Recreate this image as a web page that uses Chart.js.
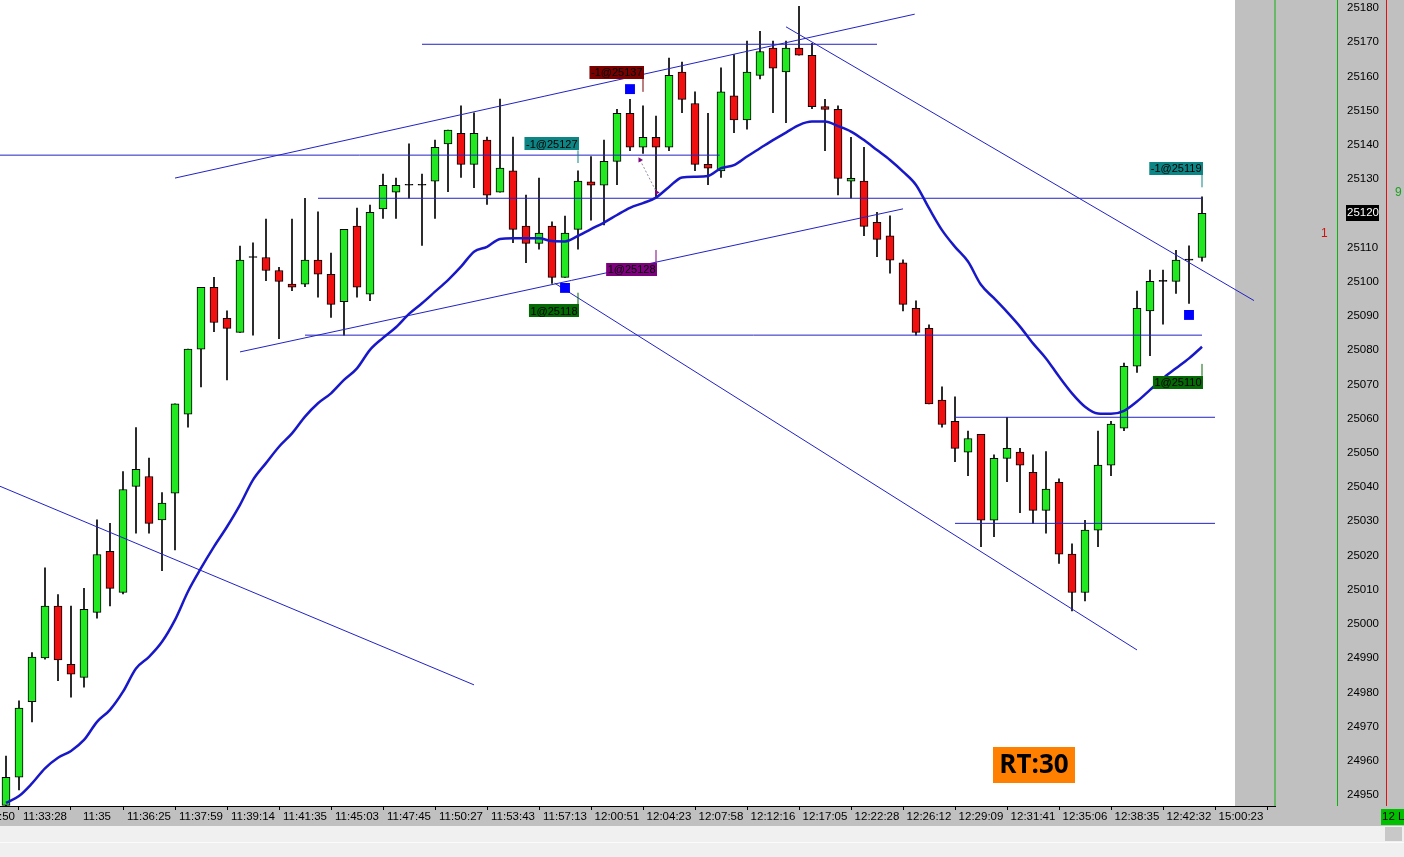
<!DOCTYPE html>
<html>
<head>
<meta charset="utf-8">
<script src="https://cdn.jsdelivr.net/npm/chart.js@4.4.1/dist/chart.umd.min.js"></script>
<style>
html,body{margin:0;padding:0;background:#f0f0f0;}
#wrap{width:1404px;height:857px;position:relative;}
</style>
</head>
<body>
<div id="wrap"><canvas id="candleChart"></canvas></div>
<script>
// bar data (one entry per candle, left to right)
const opens  = [24947.0,24955.2,24977.3,24990.1,25005.2,24988.2,24984.4,25003.4,25021.2,25009.2,
                25040.2,25043.1,25030.4,25038.2,25061.3,25080.3,25098.4,25089.3,25085.2,25107.1,
                25107.1,25103.3,25099.3,25099.3,25106.3,25102.2,25094.2,25116.3,25096.4,25121.3,
                25126.2,25128.2,25128.2,25129.4,25140.3,25143.4,25134.3,25141.4,25126.2,25132.4,
                25116.3,25111.2,25116.3,25101.3,25115.3,25129.2,25128.2,25135.2,25149.2,25139.3,
                25142.2,25139.3,25161.3,25152.1,25134.3,25132.4,25154.3,25147.3,25160.3,25168.3,
                25161.3,25168.3,25166.2,25151.2,25150.4,25129.4,25129.4,25117.4,25113.4,25105.5,
                25092.2,25086.4,25065.4,25059.2,25050.2,25055.4,25030.3,25048.4,25050.2,25044.3,
                25033.2,25041.4,25020.4,25009.2,25027.4,25046.4,25057.2,25075.3,25091.5,25100.1,
                25100.1,25106.3,25107.1];
const highs  = [24961.4,24977.5,24991.6,25016.4,25008.6,25005.2,25010.4,25030.4,25029.4,25044.5,
                25057.4,25048.5,25038.4,25064.3,25080.3,25098.4,25101.3,25091.5,25110.4,25111.4,
                25118.3,25104.2,25118.3,25124.4,25120.4,25108.4,25115.3,25121.5,25122.4,25131.5,
                25130.3,25140.3,25131.5,25141.4,25144.3,25151.4,25149.4,25142.3,25153.4,25142.3,
                25125.3,25130.3,25117.5,25119.2,25132.4,25136.6,25141.4,25150.4,25153.3,25151.4,
                25148.4,25165.4,25164.2,25155.5,25149.2,25162.5,25166.4,25170.3,25173.2,25170.3,
                25170.3,25180.5,25169.7,25153.3,25151.4,25142.2,25139.3,25120.3,25119.3,25106.4,
                25094.4,25087.4,25069.3,25066.4,25056.4,25055.4,25049.4,25060.4,25051.3,25049.4,
                25050.4,25042.4,25023.4,25030.3,25056.4,25059.2,25076.2,25097.3,25103.4,25103.4,
                25109.2,25110.5,25124.8];
const lows   = [24946.0,24951.5,24971.4,24989.7,24983.4,24978.6,24981.5,25001.7,25005.3,25008.8,
                25026.5,25026.5,25015.6,25021.6,25057.5,25069.3,25085.4,25071.3,25085.2,25084.4,
                25100.3,25083.4,25097.4,25098.6,25095.5,25089.6,25084.4,25095.5,25094.5,25118.5,
                25118.5,25124.4,25110.6,25118.5,25126.3,25130.5,25127.5,25122.6,25126.2,25111.4,
                25105.6,25109.5,25099.5,25101.3,25109.5,25118.0,25116.6,25128.4,25138.3,25137.5,
                25124.9,25138.3,25149.4,25132.5,25128.4,25130.5,25143.6,25144.6,25159.3,25149.4,
                25146.5,25166.2,25150.6,25138.3,25125.4,25124.4,25113.5,25107.3,25102.5,25091.5,
                25084.4,25064.3,25057.5,25047.4,25043.3,25022.6,25025.5,25041.6,25032.5,25029.4,
                25026.5,25017.7,25003.8,25006.7,25022.6,25043.3,25056.5,25073.5,25078.4,25087.6,
                25096.6,25093.7,25106.0];
const closes = [24955.2,24975.4,24990.3,25005.2,24989.5,24985.3,25004.3,25020.3,25010.4,25039.3,
                25045.2,25029.4,25035.3,25064.3,25080.3,25098.4,25088.1,25086.4,25106.3,25107.1,
                25103.3,25100.1,25098.4,25106.3,25102.2,25093.4,25115.3,25098.4,25120.3,25128.2,
                25128.2,25128.2,25128.2,25139.3,25144.3,25134.3,25143.4,25125.3,25133.2,25115.3,
                25111.2,25114.2,25101.3,25114.2,25129.4,25128.2,25135.2,25149.2,25139.3,25142.2,
                25139.3,25160.3,25153.3,25134.3,25133.2,25155.5,25147.3,25161.3,25167.3,25162.4,
                25168.3,25166.2,25151.2,25150.4,25130.2,25130.2,25116.2,25112.4,25106.3,25093.4,
                25085.2,25064.3,25058.3,25051.3,25054.2,25030.3,25048.4,25051.3,25046.4,25033.2,
                25039.4,25020.4,25009.2,25027.4,25046.4,25058.4,25075.3,25092.2,25100.1,25100.1,
                25106.3,25106.3,25120.0];
// moving average
const maValues = [24947.7,24949.7,24953.4,24957.8,24960.9,24962.9,24966.1,24971.4,24974.9,24980.2,
                  24987.0,24990.4,24994.8,25001.2,25009.5,25016.3,25022.6,25028.4,25034.8,25042.1,
                  25047.0,25051.8,25055.7,25060.6,25064.5,25067.4,25071.3,25074.7,25080.1,25083.6,
                  25086.7,25090.6,25093.7,25097.1,25100.5,25104.4,25108.8,25110.2,25112.5,25112.7,
                  25112.7,25112.7,25111.9,25111.8,25113.4,25115.4,25117.3,25119.5,25121.6,25123.0,
                  25124.6,25127.7,25130.5,25130.7,25130.9,25133.2,25134.1,25136.6,25139.0,25141.4,
                  25143.6,25145.8,25146.8,25146.8,25145.5,25143.9,25141.4,25138.5,25135.6,25132.2,
                  25128.3,25121.5,25115.1,25110.2,25105.9,25099.1,25095.2,25091.2,25086.9,25082.0,
                  25077.6,25072.3,25067.4,25063.5,25061.5,25061.4,25062.3,25065.0,25068.4,25071.8,
                  25074.7,25077.6,25081.0];

const xTickIdx = [-1,3,7,11,15,19,23,27,31,35,39,43,47,51,55,59,63,67,71,75,79,83,87,91,95];
const xTickLabels = ['11:31:50','11:33:28','11:35','11:36:25','11:37:59','11:39:14','11:41:35','11:45:03',
                     '11:47:45','11:50:27','11:53:43','11:57:13','12:00:51','12:04:23','12:07:58','12:12:16',
                     '12:17:05','12:22:28','12:26:12','12:29:09','12:31:41','12:35:06','12:38:35','12:42:32','15:00:23'];
const yTicks = [24950,24960,24970,24980,24990,25000,25010,25020,25030,25040,25050,25060,
                25070,25080,25090,25100,25110,25120,25130,25140,25150,25160,25170,25180];

// drawn lines: [startIdx, startPrice, endIdx, endPrice]
const trendLines = [
  [13.0, 25130.3, 69.9, 25178.2],
  [18.0, 25079.5, 69.0, 25121.3],
  [60.0, 25174.5, 96.0, 25094.5],
  [42.2, 25099.6, 87.0, 24992.4],
  [-0.5, 25040.3, 36.0, 24982.2],
  [-0.5, 25137.0, 54.9, 25137.0],
  [24.0, 25124.4, 92.0, 25124.4],
  [32.0, 25169.4, 67.0, 25169.4],
  [23.0, 25084.4, 92.0, 25084.4],
  [73.0, 25060.4, 93.0, 25060.4],
  [73.0, 25029.4, 93.0, 25029.4]
];

// order flags
const orderText  = ['-1@25137','-1@25127','1@25128','1@25118','-1@25119','1@25110'];
const orderIdx   = [49, 44, 50, 44, 92, 92];
const orderPrice = [25161.2, 25140.3, 25103.6, 25091.5, 25133.2, 25070.6];
const orderTip   = [25155.5, 25134.7, 25109.3, 25096.8, 25127.6, 25076.0];
const orderColor = ['#7a0000','#0e8585','#7f007f','#056a05','#0e8585','#056a05'];

const fillIdx   = [48, 43, 91];
const fillPrice = [25156.3, 25098.2, 25090.3];
const tradeIdx   = [48.77, 50.05];
const tradePrice = [25135.6, 25126.1];

const lastPrice = 25120;
const upColor = '#22e822', downColor = '#f01010';

const idx = opens.map((_, i) => i);
const bodyColors = idx.map(i => closes[i] > opens[i] ? upColor : (closes[i] < opens[i] ? downColor : '#000'));

const datasets = [
  {
    type: 'bar', label: 'wick', order: 3, grouped: false,
    data: idx.map(i => ({ x: i, y: [lows[i], highs[i]] })),
    backgroundColor: '#000', barThickness: 1, borderWidth: 0
  },
  {
    type: 'bar', label: 'body', order: 2, grouped: false,
    data: idx.map(i => ({ x: i, y: [opens[i], closes[i]] })),
    backgroundColor: bodyColors, borderColor: '#000', borderWidth: 1,
    borderSkipped: false, barThickness: 8, minBarLength: 1
  },
  {
    type: 'line', label: 'ma', order: 1,
    data: idx.map(i => ({ x: i, y: maValues[i] })),
    borderColor: '#1818c8', borderWidth: 2.5, pointRadius: 0,
    cubicInterpolationMode: 'monotone'
  },
  {
    type: 'line', label: 'trade', order: 1,
    data: tradeIdx.map((v, i) => ({ x: v, y: tradePrice[i] })),
    borderColor: '#9090a0', borderWidth: 1, borderDash: [2, 2],
    pointStyle: 'triangle', pointRotation: 90, pointRadius: 3,
    pointBackgroundColor: '#7f007f', pointBorderWidth: 0
  },
  {
    type: 'scatter', label: 'fills', order: 0,
    data: fillIdx.map((v, i) => ({ x: v, y: fillPrice[i] })),
    pointStyle: 'rect', pointRadius: 7, backgroundColor: '#0000ff', borderWidth: 0
  }
];
trendLines.forEach((t, k) => {
  datasets.push({
    type: 'line', label: 'line' + k, order: 1,
    data: [{ x: t[0], y: t[1] }, { x: t[2], y: t[3] }],
    borderColor: '#2222c4', borderWidth: 1, pointRadius: 0
  });
});

const panelPlugin = {
  id: 'panel',
  beforeDraw(chart) {
    const { ctx, chartArea: a, width, height } = chart;
    ctx.save();
    ctx.fillStyle = '#f0f0f0';
    ctx.fillRect(0, 0, width, height);
    ctx.fillStyle = '#c0c0c0';
    ctx.fillRect(0, 0, width, a.bottom + 20);
    ctx.fillStyle = '#fff';
    ctx.fillRect(a.left, a.top, a.right - 40 - a.left, a.bottom - a.top);
    ctx.fillStyle = '#fbfbfb';
    ctx.fillRect(0, a.bottom + 36, width, 1);
    ctx.restore();
  },
  afterDraw(chart) {
    const { ctx, chartArea: a, width } = chart;
    const xs = chart.scales.x, ys = chart.scales.y;
    ctx.save();
    // panel separators
    ctx.fillStyle = '#10b010';
    ctx.fillRect(a.right - 0.5, 0, 1, a.bottom);
    ctx.fillRect(a.right + 62, 0, 1, a.bottom);
    ctx.fillStyle = '#e01010';
    ctx.fillRect(a.right + 111, 0, 1, a.bottom);

    // order flags
    ctx.font = '11px "Liberation Sans", Arial, sans-serif';
    ctx.textAlign = 'center';
    ctx.textBaseline = 'middle';
    orderText.forEach((t, k) => {
      const px = Math.round(xs.getPixelForValue(orderIdx[k]));
      const py = ys.getPixelForValue(orderPrice[k]);
      const tip = ys.getPixelForValue(orderTip[k]);
      const w = ctx.measureText(t).width + 3, h = 13;
      ctx.fillStyle = orderColor[k];
      ctx.fillRect(px + 1 - w, Math.round(py - h / 2), w, h);
      const edge = tip > py ? py + h / 2 : py - h / 2;
      ctx.fillRect(px - 0.5, Math.min(edge, tip), 1, Math.abs(tip - edge));
      ctx.fillStyle = '#000';
      ctx.fillText(t, px + 1 - w / 2, Math.round(py) + 0.5);
    });

    // last price tag
    const lp = ys.getPixelForValue(lastPrice);
    ctx.fillStyle = '#000';
    ctx.fillRect(a.right + 71, Math.round(lp - 8), 33, 16);
    ctx.fillStyle = '#fff';
    ctx.font = '11.5px "Liberation Sans", Arial, sans-serif';
    ctx.textAlign = 'left';
    ctx.fillText(String(lastPrice), a.right + 72, lp);

    // small panel digits
    ctx.font = '12px "Liberation Sans", sans-serif';
    ctx.fillStyle = '#d01010';
    ctx.fillText('1', a.right + 46, ys.getPixelForValue(25114));
    ctx.fillStyle = '#1ea01e';
    ctx.fillText('9', a.right + 120, ys.getPixelForValue(25126));

    // RT box
    ctx.fillStyle = '#ff8000';
    ctx.fillRect(993, 747, 82, 36);
    ctx.fillStyle = '#000';
    ctx.font = 'bold 26px "Open Sans", sans-serif';
    ctx.textAlign = 'center';
    ctx.fillText('RT:30', 1034, 766);

    // bottom right status
    ctx.fillStyle = '#00c000';
    ctx.fillRect(width - 23, a.bottom + 3, 23, 16);
    ctx.fillStyle = '#000';
    ctx.font = '11.5px "Liberation Sans", Arial, sans-serif';
    ctx.textAlign = 'left';
    ctx.fillText('12 L', width - 22, a.bottom + 11);
    ctx.fillStyle = '#c8c8c8';
    ctx.fillRect(width - 19, a.bottom + 21, 17, 14);
    ctx.restore();
  }
};

const axisFont = { family: '"Liberation Sans", Arial, sans-serif', size: 11.5 };
const noPad = s => { s.paddingLeft = 0; s.paddingRight = 0; s.paddingTop = 0; s.paddingBottom = 0; };

new Chart(document.getElementById('candleChart'), {
  type: 'bar',
  data: { datasets: datasets },
  options: {
    responsive: true,
    maintainAspectRatio: false,
    animation: false,
    layout: { autoPadding: false, padding: { left: 0, right: 0, top: 0, bottom: 31 } },
    plugins: { legend: { display: false }, tooltip: { enabled: false } },
    scales: {
      x: {
        type: 'linear', position: 'bottom', offset: false,
        min: -0.4615, max: 97.615,
        afterBuildTicks: s => { s.ticks = xTickIdx.map(v => ({ value: v })); },
        afterFit: s => { s.height = 20; noPad(s); },
        grid: { display: true, drawOnChartArea: false, drawTicks: true, tickLength: 4, tickColor: '#000' },
        border: { display: true, color: '#000' },
        ticks: { autoSkip: false, maxRotation: 0, padding: 0, color: '#000', font: axisFont,
                 callback: (v, i) => xTickLabels[i] }
      },
      y: {
        type: 'linear', position: 'right',
        min: 24946.8, max: 25182.34,
        afterBuildTicks: s => { s.ticks = yTicks.map(v => ({ value: v })); },
        afterFit: s => { s.width = 129; noPad(s); },
        grid: { display: false },
        border: { display: false },
        ticks: { padding: 64, color: '#000', font: axisFont, crossAlign: 'near',
                 callback: v => String(v) }
      }
    }
  },
  plugins: [panelPlugin]
});
</script>
</body>
</html>
